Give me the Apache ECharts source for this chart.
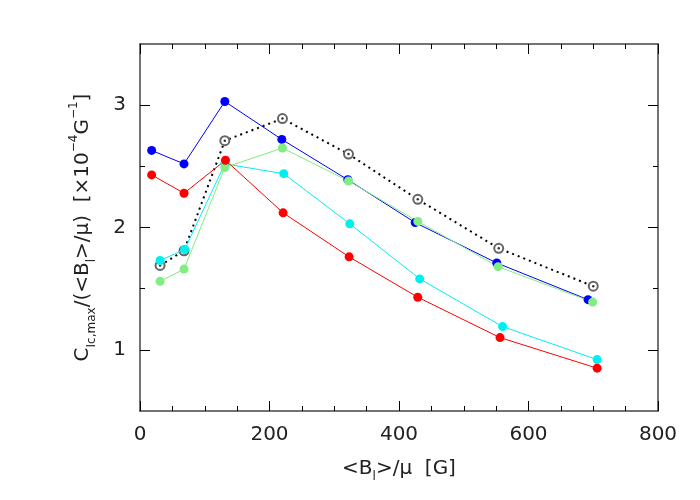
<!DOCTYPE html>
<html>
<head>
<meta charset="utf-8">
<script src="https://cdn.jsdelivr.net/npm/echarts@6/dist/echarts.min.js"></script>
<style>
  html, body { margin: 0; padding: 0; background: #fff; }
  #chart { width: 700px; height: 500px; }
</style>
</head>
<body>
<div id="chart"></div>
<script>
// values, one x list and one y list per curve
const blueX  = [18, 68, 131, 219, 321, 425, 551, 692];
const blueY  = [2.63, 2.52, 3.03, 2.72, 2.39, 2.04, 1.71, 1.41];
const cyanX  = [31, 69, 131, 222, 324, 432, 560, 706];
const cyanY  = [1.73, 1.82, 2.52, 2.44, 2.03, 1.58, 1.19, 0.92];
const greenX = [31, 68, 131, 220, 322, 429, 553, 699];
const greenY = [1.56, 1.66, 2.49, 2.65, 2.38, 2.05, 1.68, 1.39];
const redX   = [18, 68, 132, 221, 323, 429, 556, 706];
const redY   = [2.43, 2.28, 2.55, 2.12, 1.76, 1.43, 1.10, 0.85];
const openX  = [31, 68, 131, 220, 322, 429, 554, 700];
const openY  = [1.69, 1.81, 2.71, 2.89, 2.60, 2.23, 1.83, 1.52];

// axis ranges and ticks
const xMin = 0, xMax = 800, xStep = 200;
const yMin = 0.5, yMax = 3.5;
const yMajor = [1, 2, 3];
const yMinor = [1.5, 2.5];

const FONT = 'DejaVu Sans';
const frameColor = '#444';

function pairs(xs, ys) {
    return xs.map(function (x, i) { return [x, ys[i]]; });
}

function lineSeries(name, xs, ys, color) {
    return {
        name: name,
        type: 'line',
        data: pairs(xs, ys),
        symbol: 'circle',
        symbolSize: 9,
        lineStyle: { color: color, width: 1 },
        itemStyle: { color: color },
        emphasis: { disabled: true },
        animation: false
    };
}

// x axes: bottom with labels, top just ticks
function xAx(pos, withLabels) {
    return {
        type: 'value', position: pos,
        min: xMin, max: xMax, interval: xStep,
        axisLine: { show: true, onZero: false, lineStyle: { color: frameColor, width: 1.5 } },
        axisTick: { show: true, inside: true, length: 10, lineStyle: { color: '#000', width: 1 } },
        minorTick: { show: true, splitNumber: 4, length: 5, lineStyle: { color: '#000', width: 1 } },
        splitLine: { show: false },
        axisLabel: { show: withLabels, margin: 14, color: '#222', fontFamily: FONT, fontSize: 20 },
        name: withLabels ? '{t|<B}{s|l}{t|>/μ  [G]}' : '',
        nameLocation: 'middle',
        nameGap: 44,
        nameTextStyle: {
            color: '#222', fontFamily: FONT, fontSize: 20,
            rich: {
                t: { fontFamily: FONT, fontSize: 20, lineHeight: 28, color: '#222' },
                s: { fontFamily: FONT, fontSize: 12, lineHeight: 12, color: '#222', verticalAlign: 'bottom' }
            }
        }
    };
}

// y axes: a major set and a minor set on each side
function yAx(pos, ticks, len, withLabels, withLine) {
    return {
        type: 'value', position: pos,
        min: yMin, max: yMax, interval: 0.5,
        axisLine: { show: withLine, onZero: false, lineStyle: { color: frameColor, width: 1.5 } },
        axisTick: { show: true, inside: true, length: len, customValues: ticks, lineStyle: { color: '#000', width: 1 } },
        splitLine: { show: false },
        axisLabel: { show: withLabels, customValues: yMajor, margin: 14, color: '#222', fontFamily: FONT, fontSize: 20 }
    };
}

const chart = echarts.init(document.getElementById('chart'));

const yLeft = yAx('left', yMajor, 10, true, true);
yLeft.name = '{t|C}{s|Ic,max}{t|/(<B}{s|l}{t|>/μ)  [×10}{p|−4}{t|G}{p|−1}{t|]}';
yLeft.nameLocation = 'middle';
yLeft.nameRotate = 90;
yLeft.nameGap = 42;
yLeft.nameTextStyle = {
    color: '#222', fontFamily: FONT, fontSize: 20,
    rich: {
        t: { fontFamily: FONT, fontSize: 20, lineHeight: 30, color: '#222' },
        s: { fontFamily: FONT, fontSize: 12, lineHeight: 12, color: '#222', verticalAlign: 'bottom' },
        p: { fontFamily: FONT, fontSize: 12, lineHeight: 12, color: '#222', verticalAlign: 'top' }
    }
};

const option = {
    backgroundColor: '#fff',
    animation: false,
    grid: { left: 140, right: 42, top: 44, bottom: 89 },
    xAxis: [xAx('bottom', true), xAx('top', false)],
    yAxis: [
        yLeft,
        yAx('left', yMinor, 5, false, false),
        yAx('right', yMajor, 10, false, true),
        yAx('right', yMinor, 5, false, false)
    ],
    series: [
        {
            // dotted black curve with open circles (colour = ring stroke), drawn under the others
            name: 'all',
            type: 'line',
            data: pairs(openX, openY),
            symbol: 'emptyCircle',
            symbolSize: 9,
            showAllSymbol: true,
            lineStyle: { color: '#000', width: 2, type: [2, 4] },
            itemStyle: { color: '#666', borderWidth: 0.8 },
            emphasis: { disabled: true },
            z: 1
        },
        {
            // centre dots of the open circles
            name: 'dots',
            type: 'scatter',
            data: pairs(openX, openY),
            symbol: 'circle',
            symbolSize: 2.5,
            itemStyle: { color: '#000' },
            emphasis: { disabled: true },
            z: 1.5
        },
        lineSeries('blue', blueX, blueY, '#0000ff'),
        lineSeries('cyan', cyanX, cyanY, '#00f0f0'),
        lineSeries('green', greenX, greenY, '#80ee80'),
        lineSeries('red', redX, redY, '#ff0000')
    ]
};

chart.setOption(option);
</script>
</body>
</html>
